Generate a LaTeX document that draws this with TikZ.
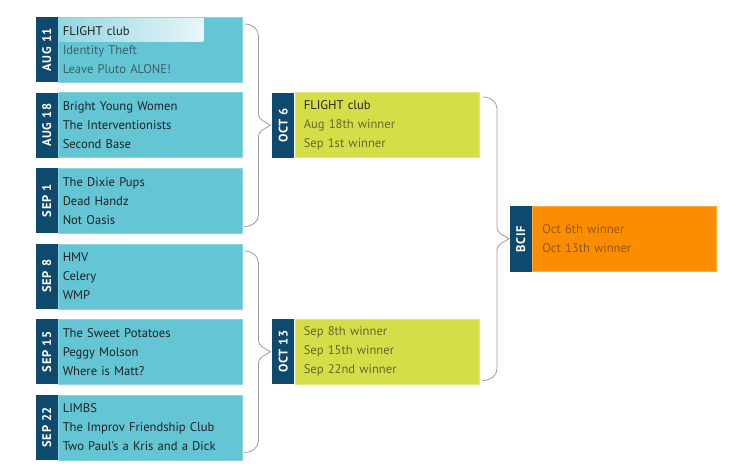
\documentclass[tikz,border=0pt]{standalone}
\usepackage{fontspec}
\setmainfont{PT Sans}
\usetikzlibrary{positioning,calc}

\definecolor{teamblue}{HTML}{64C5D5}
\definecolor{datenavy}{HTML}{0E4A6D}
\definecolor{semilime}{HTML}{D5DD49}
\definecolor{finalorange}{HTML}{FA8E00}
\definecolor{winnertext}{HTML}{222222}
\definecolor{losertext}{HTML}{3F6168}
\definecolor{limetext}{HTML}{66682E}
\definecolor{orangetext}{HTML}{94580E}
\definecolor{bracegray}{HTML}{9C9C9C}

\tikzset{
  match/.style={anchor=north west, minimum width=184pt, minimum height=65pt,
    inner ysep=0pt, align=left, line width=.5pt, text=winnertext,
    font=\fontsize{12.6}{19}\selectfont},
  round1/.style={match, fill=teamblue, draw=teamblue!75!white,
    inner xsep=4.5pt, text width=175pt},
  round2/.style={match, fill=semilime, draw=semilime!75!white,
    inner xsep=9pt, text width=166pt},
  final/.style={match, fill=finalorange, draw=finalorange!75!white,
    inner xsep=10pt, text width=164pt, text=orangetext},
  datetab/.style={rotate=90, anchor=south, minimum width=65pt,
    minimum height=22pt, inner sep=0pt, fill=datenavy, text=white,
    font=\fontsize{12.5}{15}\selectfont\bfseries\addfontfeatures{LetterSpace=6}},
  highlight/.style={path picture={\shade[left color=teamblue!70!white,
    right color=white] (path picture bounding box.north west) rectangle
    ([xshift=145pt,yshift=-24pt]path picture bounding box.north west);}},
  bracket/.style={draw=bracegray, line width=.8pt, to path={
    .. controls +(8pt,0pt) and +(0pt,7pt) .. ($(\tikztostart)+(14pt,-12pt)$)
    -- ($(\tikztostart)!.5!(\tikztotarget)+(14pt,12pt)$)
    .. controls +(0pt,-7pt) and +(-6pt,4pt) .. ($(\tikztostart)!.5!(\tikztotarget)+(26pt,0pt)$)
    .. controls +(-6pt,-4pt) and +(0pt,7pt) .. ($(\tikztostart)!.5!(\tikztotarget)+(14pt,-12pt)$)
    -- ($(\tikztotarget)+(14pt,12pt)$)
    .. controls +(0pt,-7pt) and +(8pt,0pt) .. (\tikztotarget)}}
}

\begin{document}
\begin{tikzpicture}[x=1pt,y=1pt]
\useasboundingbox (0,0) rectangle (740,475);

% first round
\node[round1, highlight] (aug11) at (58,458) {FLIGHT club\\
  \textcolor{losertext}{Identity Theft}\\\textcolor{losertext}{Leave Pluto ALONE!}};
\node[round1, below=10pt of aug11] (aug18) {Bright Young Women\\The Interventionists\\Second Base};
\node[round1, below=10pt of aug18] (sep1) {The Dixie Pups\\Dead Handz\\Not Oasis};
\node[round1, below=10pt of sep1] (sep8) {HMV\\Celery\\WMP};
\node[round1, below=10pt of sep8] (sep15) {The Sweet Potatoes\\Peggy Molson\\Where is Matt?};
\node[round1, below=10pt of sep15] (sep22) {LIMBS\\The Improv Friendship Club\\Two Paul's a Kris and a Dick};

% second round
\node[round2, right=52pt of aug18] (oct6) {FLIGHT club\\
  \textcolor{limetext}{Aug 18th winner}\\\textcolor{limetext}{Sep 1st winner}};
\node[round2, right=52pt of sep15, text=limetext] (oct13) {Sep 8th winner\\Sep 15th winner\\Sep 22nd winner};

% final
\node[final, anchor=west] (bcif) at (532,236) {Oct 6th winner\\Oct 13th winner};

% date tabs
\node[datetab] at (aug11.west) {AUG 11};
\node[datetab] at (aug18.west) {AUG 18};
\node[datetab] at (sep1.west) {SEP 1};
\node[datetab] at (sep8.west) {SEP 8};
\node[datetab] at (sep15.west) {SEP 15};
\node[datetab] at (sep22.west) {SEP 22};
\node[datetab] at (oct6.west) {OCT 6};
\node[datetab] at (oct13.west) {OCT 13};
\node[datetab] at (bcif.west) {BCIF};

% brackets
\coordinate (b1t) at ([xshift=2pt,yshift=-7pt]aug11.north east);
\coordinate (b1b) at ([xshift=2pt,yshift=7pt]sep1.south east);
\coordinate (b2t) at ([xshift=2pt,yshift=-7.5pt]sep8.north east);
\coordinate (b2b) at ([xshift=2pt,yshift=7.5pt]sep22.south east);
\coordinate (b3t) at ([xshift=4pt,yshift=-4.5pt]oct6.north east);
\coordinate (b3b) at ([xshift=4pt,yshift=4pt]oct13.south east);
\draw[bracket] (b1t) to (b1b);
\draw[bracket] (b2t) to (b2b);
\draw[bracket] (b3t) to (b3b);
\end{tikzpicture}
\end{document}
